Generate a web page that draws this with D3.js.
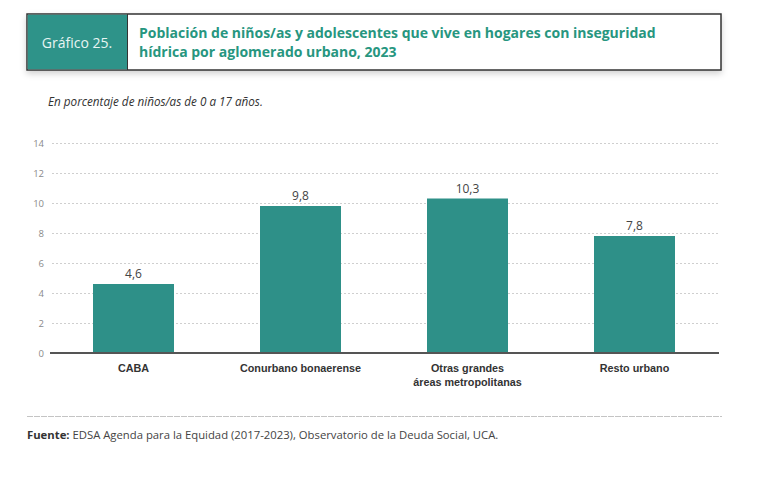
<!DOCTYPE html>
<html><head><meta charset="utf-8">
<script src="https://cdn.jsdelivr.net/npm/d3@7"></script>
<style>body{margin:0;background:#fff;} svg{display:block;font-family:"Open Sans",Lato,sans-serif;}</style>
</head><body>
<svg id="c" width="770" height="477"></svg>
<script>
const categories = [["CABA"], ["Conurbano bonaerense"], ["Otras grandes", "áreas metropolitanas"], ["Resto urbano"]];
const values = [4.6, 9.8, 10.3, 7.8];
const yTicks = [0, 2, 4, 6, 8, 10, 12, 14];
const titleLines = ["Población de niños/as y adolescentes que vive en hogares con inseguridad", "hídrica por aglomerado urbano, 2023"];

const svg = d3.select("#c");
const teal = "#2e9088";

const defs = svg.append("defs");
const f = defs.append("filter").attr("id","sh").attr("x","-5%").attr("y","-20%").attr("width","110%").attr("height","160%");
f.append("feDropShadow").attr("dx",0).attr("dy",3).attr("stdDeviation",3).attr("flood-color","#000").attr("flood-opacity",0.18);

svg.append("rect").attr("x",27).attr("y",14).attr("width",694).attr("height",56)
  .attr("fill","#fff").attr("stroke","#333").attr("stroke-width",1.5).attr("filter","url(#sh)");
svg.append("rect").attr("x",27.75).attr("y",14.75).attr("width",99.5).attr("height",54.5).attr("fill","#2e9389");
svg.append("line").attr("x1",127.5).attr("x2",127.5).attr("y1",14).attr("y2",70).attr("stroke","#333").attr("stroke-width",1);
svg.append("text").attr("x",77).attr("y",47.5).attr("text-anchor","middle").attr("fill","#e8f5f3")
  .attr("font-size",14).text("Gráfico 25.");
svg.append("text").attr("x",139).attr("y",38).attr("fill","#27967f").attr("font-weight","bold").attr("font-size",14)
  .selectAll("tspan").data(titleLines).join("tspan").attr("x",139).attr("dy",(d,i)=>i?19:0).text(d=>d);

svg.append("text").attr("x",48).attr("y",106).attr("font-style","italic").attr("font-size",11.7).attr("fill","#333")
  .text("En porcentaje de niños/as de 0 a 17 años.");

const x = d3.scaleBand().domain(d3.range(categories.length)).range([50,718]).paddingInner(0.515).paddingOuter(0.2575);
const y = d3.scaleLinear().domain([0,14]).range([353,143]);

svg.append("g").selectAll("line").data(yTicks.filter(d=>d>0)).join("line")
  .attr("x1",52).attr("x2",718).attr("y1",d=>y(d)+0.5).attr("y2",d=>y(d)+0.5)
  .attr("stroke","#cfcfcf").attr("stroke-width",1).attr("stroke-dasharray","2,2");

const yAxis = d3.axisLeft(y).tickValues(yTicks).tickSize(0).tickPadding(0).tickFormat(d3.format("d"));
const ga = svg.append("g").attr("transform","translate(44,0)").call(yAxis);
ga.select(".domain").remove();
ga.selectAll("text").attr("fill","#8a8a8a").attr("font-size",9.5).attr("font-family","'Open Sans',sans-serif");

svg.append("g").selectAll("rect").data(values).join("rect")
  .attr("x",(d,i)=>x(i)).attr("width",x.bandwidth())
  .attr("y",d=>y(d)).attr("height",d=>y(0)-y(d)).attr("fill",teal);

svg.append("g").selectAll("text").data(values).join("text")
  .attr("x",(d,i)=>x(i)+x.bandwidth()/2).attr("y",d=>y(d)-6)
  .attr("text-anchor","middle").attr("font-size",12).attr("fill","#444")
  .text(d=>d3.format(".1f")(d).replace(".",","));

svg.append("line").attr("x1",50).attr("x2",719).attr("y1",353).attr("y2",353).attr("stroke","#555").attr("stroke-width",2);

const xAxis = d3.axisBottom(x).tickSize(0).tickFormat("");
const gx = svg.append("g").attr("transform","translate(0,353)").call(xAxis);
gx.select(".domain").remove();
gx.selectAll(".tick").each(function(d){
  const t = d3.select(this).append("text").attr("text-anchor","middle").attr("font-size",10.8)
    .attr("font-weight",600).attr("fill","#333").attr("y",19);
  categories[d].forEach((s,i)=>t.append("tspan").attr("x",0).attr("dy",i?14:0).text(s));
});

svg.append("line").attr("x1",27).attr("x2",722).attr("y1",416.5).attr("y2",416.5)
  .attr("stroke","#c4c4c4").attr("stroke-width",1).attr("stroke-dasharray","6,1");
const ft = svg.append("text").attr("x",27).attr("y",439).attr("font-size",11.3).attr("fill","#444");
ft.append("tspan").attr("font-weight","bold").attr("fill","#333").text("Fuente: ");
ft.append("tspan").text("EDSA Agenda para la Equidad (2017-2023), Observatorio de la Deuda Social, UCA.");
</script>
</body></html>
